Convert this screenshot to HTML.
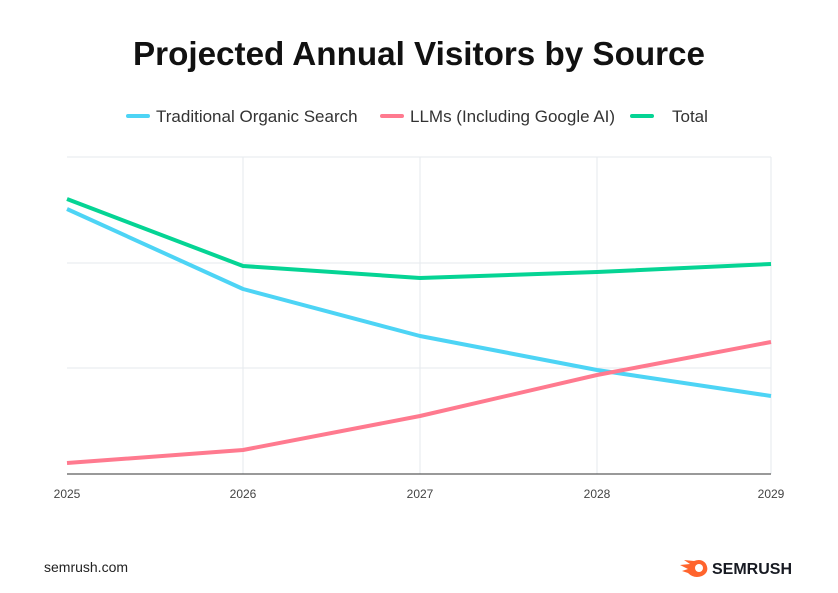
<!DOCTYPE html>
<html><head><style>body{margin:0;background:#fff;}</style></head><body>
<svg width="838" height="588" viewBox="0 0 838 588" xmlns="http://www.w3.org/2000/svg" font-family="Liberation Sans, sans-serif">
<rect width="838" height="588" fill="#fff"/>
<text x="419" y="65" text-anchor="middle" font-size="33" font-weight="bold" fill="#111" textLength="572" lengthAdjust="spacingAndGlyphs">Projected Annual Visitors by Source</text>
<g font-size="17" fill="#333">
<line x1="128" y1="116" x2="148" y2="116" stroke="#4dd4f5" stroke-width="4" stroke-linecap="round"/>
<text x="156" y="122">Traditional Organic Search</text>
<line x1="382" y1="116" x2="402" y2="116" stroke="#ff7a8f" stroke-width="4" stroke-linecap="round"/>
<text x="410" y="122">LLMs (Including Google AI)</text>
<line x1="632" y1="116" x2="652" y2="116" stroke="#05d494" stroke-width="4" stroke-linecap="round"/>
<text x="672" y="122">Total</text>
</g>
<g stroke="#e6eaee" stroke-width="1">
<line x1="67" y1="157" x2="771" y2="157"/><line x1="67" y1="263" x2="771" y2="263"/><line x1="67" y1="368" x2="771" y2="368"/>
<line x1="243" y1="157" x2="243" y2="474"/><line x1="420" y1="157" x2="420" y2="474"/><line x1="597" y1="157" x2="597" y2="474"/><line x1="771" y1="157" x2="771" y2="474"/>
</g>
<line x1="67" y1="474" x2="771" y2="474" stroke="#333" stroke-width="1"/>
<g fill="none" stroke-width="4" stroke-linejoin="round">
<polyline points="67,209 243,289 420,336 597,370 771,396" stroke="#4dd4f5"/>
<polyline points="67,463 243,450 420,416 597,375 771,342" stroke="#ff7a8f"/>
<polyline points="67,199 243,266 420,278 597,272 771,264" stroke="#05d494"/>
</g>
<g font-size="12" fill="#444" text-anchor="middle">
<text x="67" y="498">2025</text><text x="243" y="498">2026</text><text x="420" y="498">2027</text><text x="597" y="498">2028</text><text x="771" y="498">2029</text>
</g>
<text x="44" y="572" font-size="14" fill="#222">semrush.com</text>
<g transform="translate(680,558)">
<path d="M0,7 L10,6 L4,2 L14,3 Q22,0 26,6 Q30,14 22,18 Q14,21 8,15 L2,13 L8,11 Z" fill="#ff642d"/>
<circle cx="19" cy="10" r="4" fill="#fff"/>
</g>
<text x="712" y="574" font-size="16" font-weight="bold" fill="#171a22">SEMRUSH</text>
</svg>
</body></html>
